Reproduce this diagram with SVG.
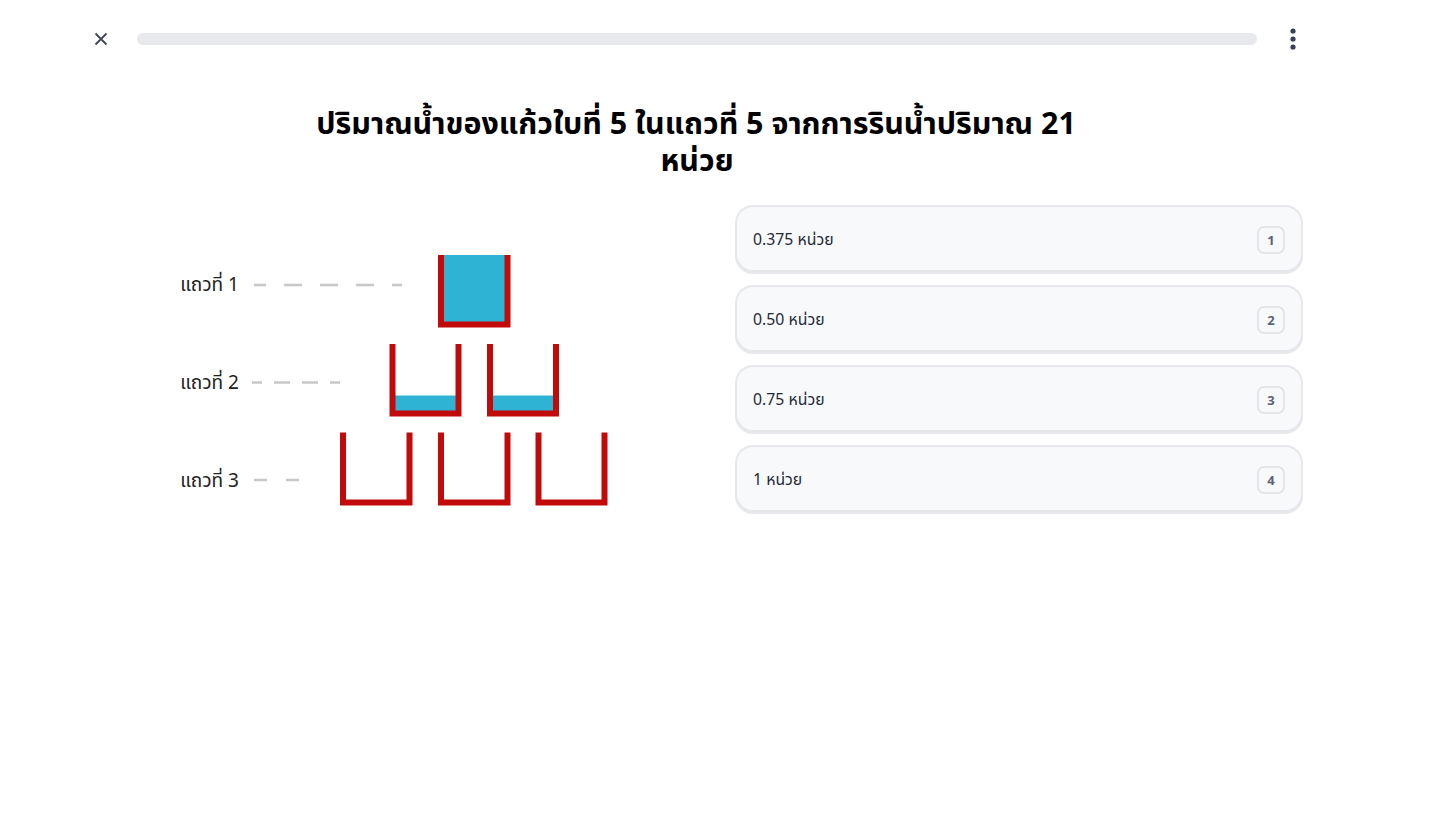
<svg xmlns="http://www.w3.org/2000/svg" width="1447" height="823" viewBox="0 0 1447 823">
<style>
.title{font-family:"Noto Sans Thai","Noto Sans","Liberation Sans",sans-serif;font-size:30.4px;font-weight:bold;fill:#000;text-anchor:middle}
.lbl{font-family:"Noto Sans Thai","Noto Sans","Liberation Sans",sans-serif;font-size:19px;fill:#222;text-anchor:end}
.opt{font-family:"Noto Sans Thai","Noto Sans","Liberation Sans",sans-serif;font-size:15.8px;fill:#1f2937}
.badge-t{font-family:"Noto Sans","Liberation Sans",sans-serif;font-size:13px;font-weight:bold;fill:#5b6375;text-anchor:middle}
.cup{fill:none;stroke:#c20a0a;stroke-width:6;stroke-linecap:butt;stroke-linejoin:miter}
.water{fill:#2eb3d4}
.dash{stroke:#c8c8c8;stroke-width:2.5}
.card-o{fill:#e6e8ec}
.card-i{fill:#f8f9fb}
.badge{fill:#f8f9fb;stroke:#e3e5e9;stroke-width:2}
</style>
<rect width="1447" height="823" fill="#fff"/>
<g id="topbar">
<path d="M95.5 33.5 L106.5 44.5 M106.5 33.5 L95.5 44.5" stroke="#3f4656" stroke-width="1.8" fill="none"/>
<rect x="137" y="33" width="1120" height="12" rx="6" fill="#e8e9ed"/>
<circle cx="1293" cy="31" r="2.6" fill="#374151"/>
<circle cx="1293" cy="39" r="2.6" fill="#374151"/>
<circle cx="1293" cy="47" r="2.6" fill="#374151"/>
</g>
<g id="title">
<text class="title" x="696" y="134">ปริมาณน้ำของแก้วใบที่ 5 ในแถวที่ 5 จากการรินน้ำปริมาณ 21</text>
<text class="title" x="697" y="171">หน่วย</text>
</g>
<g id="labels">
<text class="lbl" x="239" y="291">แถวที่ 1</text>
<text class="lbl" x="239" y="389">แถวที่ 2</text>
<text class="lbl" x="239" y="487">แถวที่ 3</text>
</g>
<g id="connectors">
<line class="dash" x1="254" y1="285" x2="402" y2="285" stroke-dasharray="18 18" stroke-dashoffset="6"/>
<line class="dash" x1="252" y1="382.5" x2="340" y2="382.5" stroke-dasharray="16 12" stroke-dashoffset="6"/>
<line class="dash" x1="254" y1="480" x2="299" y2="480" stroke-dasharray="13 19"/>
</g>
<g id="cup-1-1">
<rect class="water" x="443" y="255" width="62" height="67"/>
<path class="cup" d="M441 255 V324.5 H507.5 V255"/>
</g>
<g id="cup-2-1">
<rect class="water" x="395" y="395.5" width="62" height="15.5"/>
<path class="cup" d="M392.5 344 V413.5 H458.5 V344"/>
</g>
<g id="cup-2-2">
<rect class="water" x="492.5" y="395.5" width="62" height="15.5"/>
<path class="cup" d="M490 344 V413.5 H556 V344"/>
</g>
<g id="cup-3-1">
<path class="cup" d="M343 432.5 V502.5 H409.5 V432.5"/>
</g>
<g id="cup-3-2">
<path class="cup" d="M441 432.5 V502.5 H507.5 V432.5"/>
</g>
<g id="cup-3-3">
<path class="cup" d="M538.5 432.5 V502.5 H604.5 V432.5"/>
</g>
<g id="option-1">
<rect class="card-o" x="735" y="205" width="568" height="69" rx="18"/>
<rect class="card-i" x="737" y="207" width="564" height="63" rx="16"/>
<text class="opt" x="753" y="245">0.375 หน่วย</text>
<rect class="badge" x="1258" y="227" width="26" height="26" rx="6"/>
<text class="badge-t" x="1271" y="245">1</text>
</g>
<g id="option-2">
<rect class="card-o" x="735" y="285" width="568" height="69" rx="18"/>
<rect class="card-i" x="737" y="287" width="564" height="63" rx="16"/>
<text class="opt" x="753" y="325">0.50 หน่วย</text>
<rect class="badge" x="1258" y="307" width="26" height="26" rx="6"/>
<text class="badge-t" x="1271" y="325">2</text>
</g>
<g id="option-3">
<rect class="card-o" x="735" y="365" width="568" height="69" rx="18"/>
<rect class="card-i" x="737" y="367" width="564" height="63" rx="16"/>
<text class="opt" x="753" y="405">0.75 หน่วย</text>
<rect class="badge" x="1258" y="387" width="26" height="26" rx="6"/>
<text class="badge-t" x="1271" y="405">3</text>
</g>
<g id="option-4">
<rect class="card-o" x="735" y="445" width="568" height="69" rx="18"/>
<rect class="card-i" x="737" y="447" width="564" height="63" rx="16"/>
<text class="opt" x="753" y="485">1 หน่วย</text>
<rect class="badge" x="1258" y="467" width="26" height="26" rx="6"/>
<text class="badge-t" x="1271" y="485">4</text>
</g>
</svg>
